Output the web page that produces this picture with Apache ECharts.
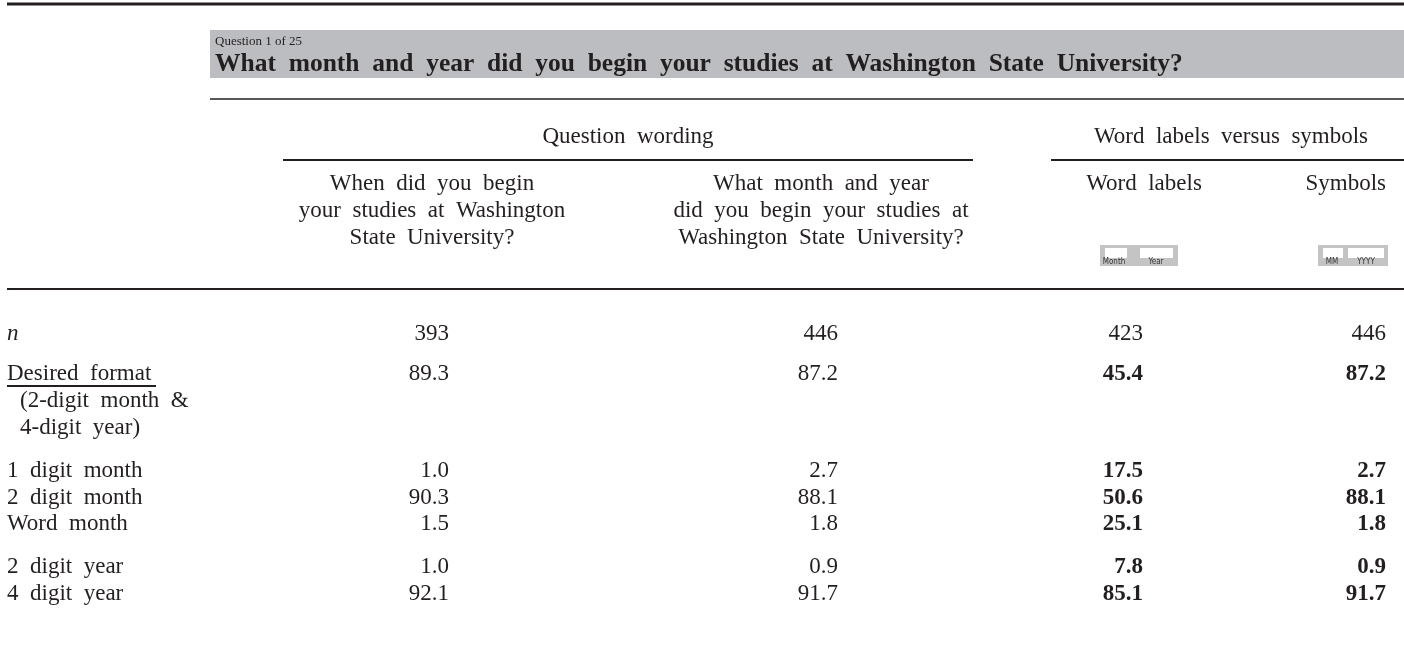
<!DOCTYPE html>
<html><head><meta charset="utf-8">
<script src="https://cdn.jsdelivr.net/npm/echarts@6/dist/echarts.min.js"></script>
<style>html,body{margin:0;padding:0;background:#fff}#c{width:1404px;height:663px}</style>
</head><body><div id="c"></div>
<script>
// ---------- data ----------
const questionNo = 'Question 1 of 25';
const questionText = 'What month and year did you begin your studies at Washington State University?';
const groupHeaders = ['Question wording', 'Word labels versus symbols'];
const columnHeaders = [
  ['When did you begin', 'your studies at Washington', 'State University?'],
  ['What month and year', 'did you begin your studies at', 'Washington State University?'],
  ['Word labels'],
  ['Symbols']
];
const iconLabelsWord = ['Month', 'Year'];
const iconLabelsSymbol = ['MM', 'YYYY'];
const rowLabels = ['n', 'Desired format', '1 digit month', '2 digit month', 'Word month', '2 digit year', '4 digit year'];
const desiredNote = ['(2-digit month &', '4-digit year)'];
const whenDid = [393, 89.3, 1.0, 90.3, 1.5, 1.0, 92.1];
const whatMonth = [446, 87.2, 2.7, 88.1, 1.8, 0.9, 91.7];
const wordLabels = [423, 45.4, 17.5, 50.6, 25.1, 7.8, 85.1];
const symbols = [446, 87.2, 2.7, 88.1, 1.8, 0.9, 91.7];

// ---------- layout / style ----------
const W = 1404, H = 663;
const INK = '#231f20';
const FF = '"Liberation Serif", "Times New Roman", serif';
const FS = 23;
const colRight = [449, 838, 1143, 1386];
const colHeadX = [432, 821, 1144, 1386];
const colHeadAlign = ['center', 'center', 'center', 'right'];
const rowY = [334, 374, 471, 498, 524, 567, 594];
const noteY = [401, 428];
const headLineY = [184, 211, 238];
const boldCols = [false, false, true, true];
const ws = s => s.replace(/ /g, '  ');

const columns = [whenDid, whatMonth, wordLabels, symbols];

function txt(text, x, y, opts) {
  opts = opts || {};
  return {
    type: 'text', x: x, y: y, silent: true,
    style: {
      text: text, fill: opts.fill || INK,
      font: (opts.style || '') + ' ' + (opts.weight || 'normal') + ' ' + (opts.size || FS) + 'px ' + FF,
      align: opts.align || 'left', verticalAlign: 'middle'
    }
  };
}
function line(x1, y1, x2, y2, w) {
  return { type: 'line', silent: true, shape: { x1: x1, y1: y1, x2: x2, y2: y2 }, style: { stroke: INK, lineWidth: w } };
}
function rect(x, y, w, h, fill) {
  return { type: 'rect', silent: true, shape: { x: x, y: y, width: w, height: h }, style: { fill: fill } };
}

const g = [];
g.push(line(7, 4, W, 4, 3));
g.push(rect(210, 30, W - 210, 48, '#bcbdc0'));
g.push(txt(questionNo, 215, 42, { size: 13 }));
g.push(txt(ws(questionText), 215, 64, { size: 25.5, weight: 'bold' }));
g.push(line(210, 99, W, 99, 1.5));
g.push(txt(ws(groupHeaders[0]), 628, 137, { align: 'center' }));
g.push(txt(ws(groupHeaders[1]), 1231, 137, { align: 'center' }));
g.push(line(283, 160, 973, 160, 2));
g.push(line(1051, 160, W, 160, 2));
columnHeaders.forEach((lines, c) => {
  lines.forEach((t, i) => g.push(txt(ws(t), colHeadX[c], headLineY[i], { align: colHeadAlign[c] })));
});
// small form icons under the word-label / symbol headers
function icon(x, w, b1x, b1w, b2x, b2w, labels, lx) {
  g.push(rect(x, 245, w, 21, '#c4c4c4'));
  g.push(rect(b1x, 248, b1w, 10, '#ffffff'));
  g.push(rect(b2x, 248, b2w, 10, '#ffffff'));
  labels.forEach((l, i) => g.push({ type: 'text', x: lx[i], y: 261.5, silent: true,
    style: { text: l, fill: '#333', font: '8px "DejaVu Sans Condensed", sans-serif', align: 'center', verticalAlign: 'middle' } }));
}
icon(1100, 78, 1105, 22, 1140, 33, iconLabelsWord, [1114, 1156]);
icon(1318, 70, 1323, 20, 1348, 36, iconLabelsSymbol, [1332, 1366]);
g.push(line(7, 289, W, 289, 2));
// row labels
rowLabels.forEach((t, r) => {
  g.push(txt(r === 0 ? t : ws(t), 7, rowY[r], { style: r === 0 ? 'italic' : '' }));
});
g.push(line(7, 386, 156, 386, 2));
desiredNote.forEach((t, i) => g.push(txt(ws(t), 20, noteY[i])));

// data cells as scatter labels positioned by the axes
const series = columns.map((vals, c) => ({
  type: 'scatter', symbolSize: 0, silent: true,
  itemStyle: { opacity: 1 },
  data: vals.map((v, r) => ({
    value: [colRight[c], rowY[r]],
    label: {
      show: true, position: 'left', distance: 0,
      formatter: r === 0 ? String(v) : v.toFixed(1),
      fontFamily: FF, fontSize: FS, color: INK, opacity: 1,
      fontWeight: (boldCols[c] && r > 0) ? 'bold' : 'normal'
    }
  }))
}));

const chart = echarts.init(document.getElementById('c'), null, { renderer: 'canvas' });
chart.setOption({
  animation: false,
  backgroundColor: '#ffffff',
  grid: { left: 0, right: 0, top: 0, bottom: 0 },
  xAxis: { type: 'value', min: 0, max: W, show: false },
  yAxis: { type: 'value', min: 0, max: H, inverse: true, show: false },
  graphic: g,
  series: series
});
</script></body></html>
